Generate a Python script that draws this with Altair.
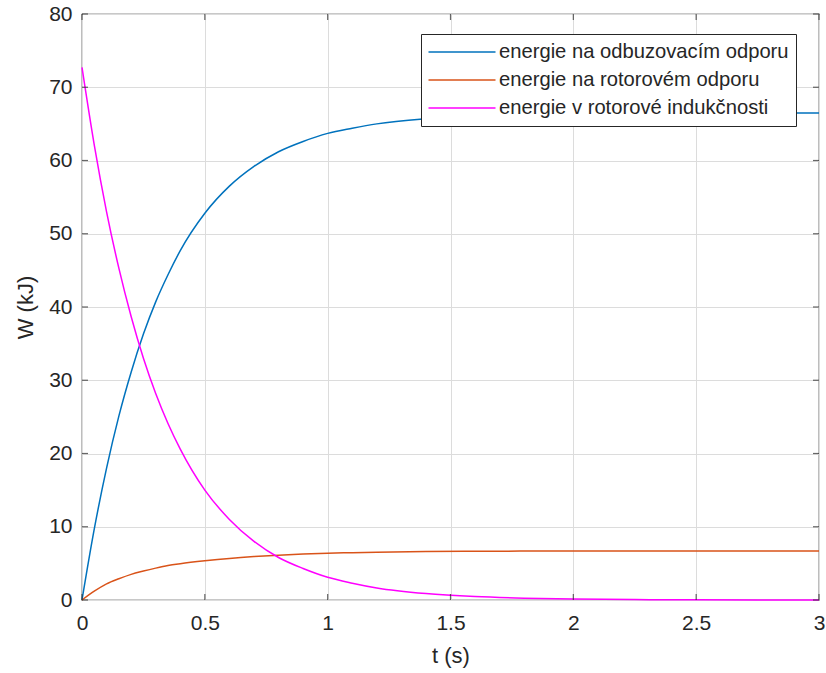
import altair as alt
import pandas as pd

# time axis (s)
t = [0, 0.05, 0.1, 0.15, 0.2, 0.25, 0.3, 0.35, 0.4, 0.5, 0.6, 0.7, 0.8, 0.9,
     1.0, 1.1, 1.2, 1.4, 1.6, 1.8, 2.0, 2.25, 2.5, 2.75, 3.0]
# energie na odbuzovacím odporu (kJ)
w_odbuz = [0, 9.7, 18.0, 25.1, 31.1, 36.3, 40.7, 44.4, 47.7, 52.8, 56.5, 59.2, 61.2, 62.6,
           63.7, 64.4, 65.0, 65.7, 66.1, 66.3, 66.4, 66.45, 66.5, 66.5, 66.5]
# energie na rotorovém odporu (kJ)
w_rotor = [0, 1.2, 2.2, 2.9, 3.5, 3.95, 4.35, 4.7, 4.95, 5.35, 5.68, 5.93, 6.12, 6.27,
           6.38, 6.46, 6.53, 6.61, 6.65, 6.68, 6.69, 6.7, 6.7, 6.7, 6.7]
# energie v rotorové indukčnosti (kJ)
w_ind = [72.7, 62.1, 53.0, 45.3, 38.7, 33.0, 28.2, 24.1, 20.6, 15.0, 11.0, 8.0, 5.8, 4.3,
         3.1, 2.3, 1.65, 0.88, 0.47, 0.25, 0.13, 0.06, 0.03, 0.015, 0.01]

names = ["energie na odbuzovacím odporu", "energie na rotorovém odporu",
         "energie v rotorové indukčnosti"]
colors = ["#0072BD", "#D95319", "#FF00FF"]

x_ticks = [0, 0.5, 1, 1.5, 2, 2.5, 3]
y_ticks = [0, 10, 20, 30, 40, 50, 60, 70, 80]

rows = []
for name, series in zip(names, [w_odbuz, w_rotor, w_ind]):
    for ti, wi in zip(t, series):
        rows.append({"t": ti, "W": wi, "s": name})
df = pd.DataFrame(rows)

W, H = 737, 586
FONT = "Liberation Sans"
TXT = "#262626"

xscale = alt.Scale(domain=[0, 3], nice=False, zero=False)
yscale = alt.Scale(domain=[0, 80], nice=False)

lines = alt.Chart(df).mark_line(strokeWidth=1.5, interpolate="monotone").encode(
    x=alt.X("t:Q", scale=xscale, title="t (s)",
            axis=alt.Axis(values=x_ticks, format="~g", grid=True, ticks=False, tickSize=0,
                          domain=False, labelPadding=12, labelFontSize=21, labelFlush=False,
                          titleFontSize=22, titlePadding=12)),
    y=alt.Y("W:Q", scale=yscale, title="W (kJ)",
            axis=alt.Axis(values=y_ticks, grid=True, ticks=False, tickSize=0,
                          domain=False, labelPadding=10, labelFontSize=21, labelFlush=False,
                          titleFontSize=22, titlePadding=11)),
    color=alt.Color("s:N", scale=alt.Scale(domain=names, range=colors),
                    legend=alt.Legend(title=None, orient="none", legendX=339, legendY=20,
                                      symbolType="M-3.35,0H3.35", symbolSize=400,
                                      symbolOffset=23, symbolStrokeWidth=1.5,
                                      labelFontSize=20.2, labelLimit=500,
                                      labelFont=FONT, labelColor=TXT,
                                      fillColor="white", strokeColor="#262626",
                                      padding=7, rowPadding=6, labelOffset=26)),
)

xt = pd.DataFrame({"v": x_ticks})
yt = pd.DataFrame({"v": y_ticks})
tick_bottom = alt.Chart(xt).mark_tick(orient="vertical", size=6, thickness=1.2, color="#262626").encode(
    x=alt.X("v:Q", scale=xscale), y=alt.value(H - 3))
tick_top = alt.Chart(xt).mark_tick(orient="vertical", size=6, thickness=1.2, color="#262626").encode(
    x=alt.X("v:Q", scale=xscale), y=alt.value(3))
tick_left = alt.Chart(yt).mark_tick(orient="horizontal", size=6, thickness=1.2, color="#262626").encode(
    y=alt.Y("v:Q", scale=yscale), x=alt.value(3))
tick_right = alt.Chart(yt).mark_tick(orient="horizontal", size=6, thickness=1.2, color="#262626").encode(
    y=alt.Y("v:Q", scale=yscale), x=alt.value(W - 3))

chart = alt.layer(lines, tick_bottom, tick_top, tick_left, tick_right).properties(
    width=W, height=H,
    padding={"left": 82, "top": 14, "right": 7, "bottom": 73},
    autosize="none",
    background="white",
).configure_view(
    stroke="#262626", strokeWidth=1.2
).configure_axis(
    labelFont=FONT, titleFont=FONT, labelColor=TXT, titleColor=TXT,
    titleFontWeight="normal", gridColor="#dcdcdc", gridWidth=1
)

chart.save("out.html", embed_options={"renderer": "svg", "actions": False})
